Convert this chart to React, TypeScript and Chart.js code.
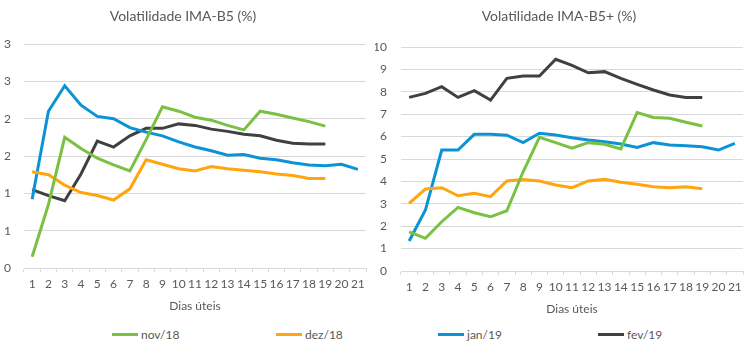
import React, { useEffect, useRef } from "react";
import { Chart, registerables } from "chart.js";

Chart.register(...registerables);

// ---- data ----
const days = ["1", "2", "3", "4", "5", "6", "7", "8", "9", "10", "11", "12", "13", "14", "15", "16", "17", "18", "19", "20", "21"];
const seriesNames = ["nov/18", "dez/18", "jan/19", "fev/19"];

// Volatilidade IMA-B5 (%)
const b5Nov = [0.15, 0.85, 1.75, 1.6, 1.47, 1.38, 1.3, 1.72, 2.16, 2.1, 2.02, 1.98, 1.91, 1.85, 2.1, 2.06, 2.01, 1.96, 1.9];
const b5Dez = [1.29, 1.25, 1.11, 1.01, 0.97, 0.91, 1.06, 1.45, 1.39, 1.33, 1.3, 1.36, 1.33, 1.31, 1.29, 1.26, 1.24, 1.2, 1.2];
const b5Jan = [0.92, 2.1, 2.44, 2.18, 2.03, 2.0, 1.88, 1.82, 1.77, 1.69, 1.62, 1.57, 1.51, 1.52, 1.47, 1.45, 1.41, 1.38, 1.37, 1.39, 1.32];
const b5Fev = [1.05, 0.97, 0.9, 1.26, 1.7, 1.62, 1.77, 1.87, 1.87, 1.93, 1.91, 1.86, 1.83, 1.79, 1.77, 1.71, 1.67, 1.66, 1.66];
const b5TickLabels = ["0", "1", "1", "2", "2", "3", "3"];

// Volatilidade IMA-B5+ (%)
const b5pNov = [1.75, 1.46, 2.2, 2.84, 2.6, 2.42, 2.69, 4.43, 5.97, 5.73, 5.48, 5.73, 5.66, 5.45, 7.07, 6.85, 6.82, 6.64, 6.47];
const b5pDez = [3.02, 3.66, 3.72, 3.36, 3.47, 3.32, 4.02, 4.09, 4.02, 3.84, 3.72, 4.02, 4.09, 3.96, 3.87, 3.76, 3.72, 3.76, 3.67];
const b5pJan = [1.34, 2.72, 5.4, 5.4, 6.1, 6.1, 6.06, 5.73, 6.15, 6.07, 5.95, 5.85, 5.77, 5.67, 5.52, 5.73, 5.63, 5.59, 5.55, 5.4, 5.7];
const b5pFev = [7.75, 7.93, 8.23, 7.75, 8.05, 7.63, 8.6, 8.7, 8.7, 9.45, 9.18, 8.85, 8.9, 8.6, 8.33, 8.08, 7.86, 7.75, 7.75];
const b5pTickLabels = ["0", "1", "2", "3", "4", "5", "6", "7", "8", "9", "10"];

const colors = ["#7AC143", "#FFA50F", "#0B93D6", "#404040"];
const FONT = "Lato, 'Open Sans', sans-serif";
const TEXT = "#595959";
const GRID = "#D9D9D9";

type Cfg = {
  title: string;
  data: number[][];
  yMax: number;
  step: number;
  tickLabels: string[];
  yWidth: number;
  yPad: number;
  xHeight: number;
  titleBottom: number;
  rightPad: number;
  axisTitleBottom: number;
};

function LineChart({ cfg }: { cfg: Cfg }) {
  const ref = useRef<HTMLCanvasElement | null>(null);
  useEffect(() => {
    if (!ref.current) return;
    const chart = new Chart(ref.current, {
      type: "line",
      data: {
        labels: days,
        datasets: cfg.data.map((d, i) => ({
          label: seriesNames[i],
          data: d,
          borderColor: colors[i],
          backgroundColor: colors[i],
          borderWidth: 3,
          pointRadius: 0,
          tension: 0,
          fill: false,
        })),
      },
      options: {
        responsive: false,
        animation: false,
        layout: { padding: { left: 0, right: cfg.rightPad, top: 0, bottom: 0 } },
        plugins: {
          legend: { display: false },
          tooltip: { enabled: false },
          title: {
            display: true,
            text: cfg.title,
            color: TEXT,
            font: { family: FONT, size: 14, weight: "normal" },
            padding: { top: 8, bottom: cfg.titleBottom },
          },
        },
        scales: {
          x: {
            offset: true,
            grid: {
              display: true,
              drawOnChartArea: false,
              drawTicks: true,
              tickLength: 4,
              color: GRID,
              offset: true,
            },
            border: { display: true, color: GRID },
            ticks: {
              autoSkip: false,
              maxRotation: 0,
              minRotation: 0,
              padding: 5,
              color: TEXT,
              font: { family: FONT, size: 12 },
            },
            title: {
              display: true,
              text: "Dias úteis",
              color: TEXT,
              font: { family: FONT, size: 12 },
              padding: { top: 0, bottom: cfg.axisTitleBottom },
            },
            afterFit: (s: any) => {
              s.height = cfg.xHeight;
            },
          },
          y: {
            min: 0,
            max: cfg.yMax,
            grid: { color: GRID, drawTicks: false },
            border: { display: false },
            ticks: {
              stepSize: cfg.step,
              padding: cfg.yPad,
              color: TEXT,
              font: { family: FONT, size: 12 },
              callback: (_v: any, i: number) => cfg.tickLabels[i],
            },
            afterFit: (s: any) => {
              s.width = cfg.yWidth;
            },
          },
        },
      },
    } as any);
    return () => chart.destroy();
  }, [cfg]);
  return <canvas ref={ref} width={375} height={320} style={{ display: "block" }} />;
}

const leftCfg: Cfg = {
  title: "Volatilidade IMA-B5 (%)",
  data: [b5Nov, b5Dez, b5Jan, b5Fev],
  yMax: 3,
  step: 0.5,
  tickLabels: b5TickLabels,
  yWidth: 24,
  yPad: 13,
  xHeight: 52,
  titleBottom: 19.2,
  rightPad: 9,
  axisTitleBottom: 6.8,
};

const rightCfg: Cfg = {
  title: "Volatilidade IMA-B5+ (%)",
  data: [b5pNov, b5pDez, b5pJan, b5pFev],
  yMax: 10,
  step: 1,
  tickLabels: b5pTickLabels,
  yWidth: 26,
  yPad: 14,
  xHeight: 49,
  titleBottom: 22.2,
  rightPad: 7,
  axisTitleBottom: 3.8,
};

const legendX = [112, 276, 438, 598];

export default function App() {
  return (
    <div style={{ position: "fixed", left: 0, top: 0, width: 750, height: 356, background: "#fff", overflow: "hidden" }}>
      <div style={{ position: "absolute", left: 0, top: 0 }}>
        <LineChart cfg={leftCfg} />
      </div>
      <div style={{ position: "absolute", left: 375, top: 0 }}>
        <LineChart cfg={rightCfg} />
      </div>
      {seriesNames.map((n, i) => (
        <div
          key={n}
          style={{
            position: "absolute",
            left: legendX[i],
            top: 326,
            height: 16,
            display: "flex",
            alignItems: "center",
            fontFamily: FONT,
            fontSize: 12,
            color: TEXT,
            whiteSpace: "nowrap",
          }}
        >
          <span style={{ display: "inline-block", width: 26, height: 3, background: colors[i], marginRight: 3 }} />
          <span>{n}</span>
        </div>
      ))}
    </div>
  );
}
